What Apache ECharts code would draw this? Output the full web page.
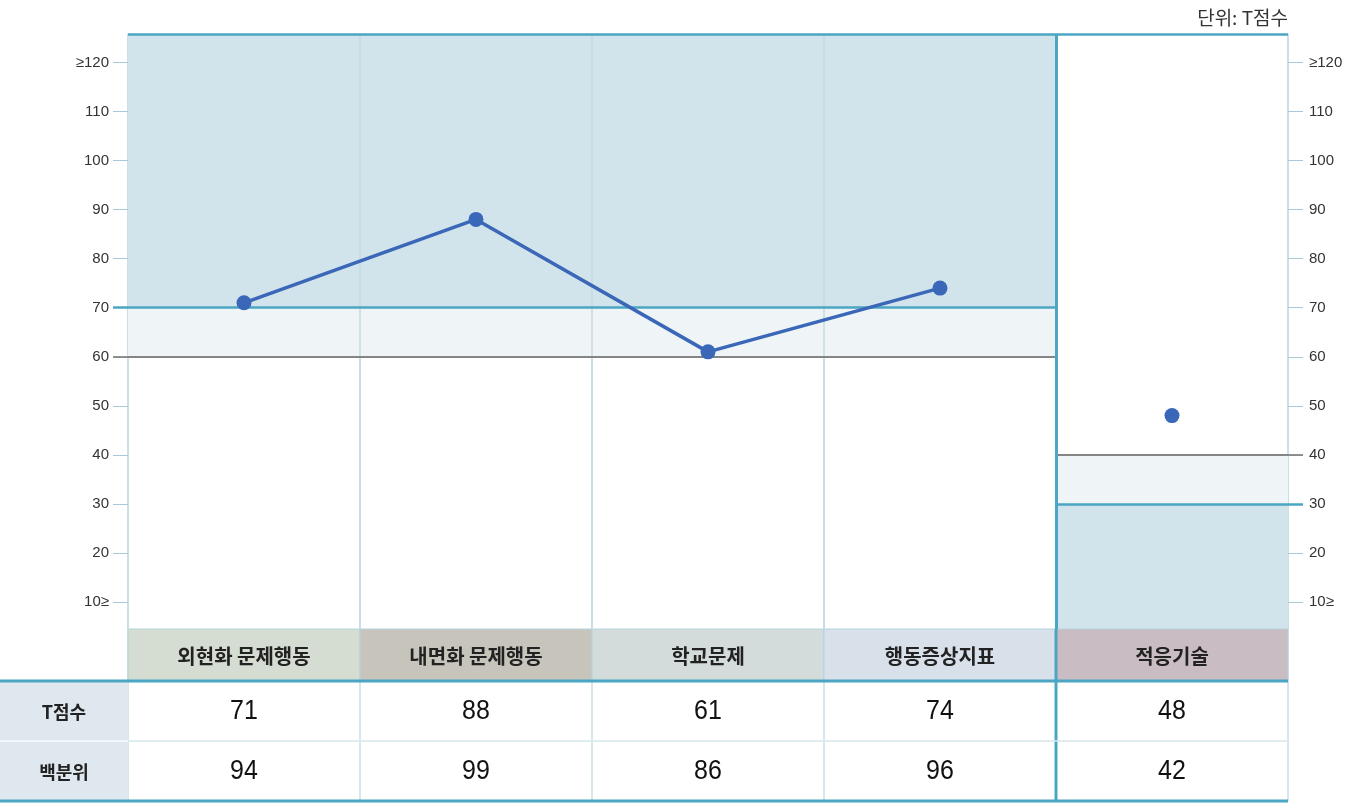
<!DOCTYPE html>
<html>
<head>
<meta charset="utf-8">
<script src="https://cdn.jsdelivr.net/npm/echarts@6/dist/echarts.min.js"></script>
<style>
  html, body { margin: 0; padding: 0; background: #fff; }
  #chart { width: 1367px; height: 803px; }
</style>
</head>
<body>
<div id="chart"></div>
<script>
// scales: the first four are problem scales, the last one is adaptive skills
var categories = ['외현화 문제행동', '내면화 문제행동', '학교문제', '행동증상지표', '적응기술'];
var tScores = [71, 88, 61, 74, 48];
var percentiles = [94, 99, 86, 96, 42];
var rowLabels = ['T점수', '백분위'];
var yTicks = [10, 20, 30, 40, 50, 60, 70, 80, 90, 100, 110, 120];
var yTickLabels = ['10≥', '20', '30', '40', '50', '60', '70', '80', '90', '100', '110', '≥120'];
var problemCount = 4;
var problemCut = { clinical: 70, borderline: 60 };
var adaptiveCut = { clinical: 30, borderline: 40 };

// layout / style
var Y_MIN = 4.5, Y_MAX = 125.8;
var TEAL = '#4aa6c2', GRIDC = '#cadde6', DARK = '#d2e4eb', LIGHT = '#eff5f7', GRAY = '#858585', BLUE = '#3b67b9';
var headerColors = ['#d5dcd2', '#c7c5bb', '#d3dcdb', '#d8e0ea', '#cabcc3'];
var KR = '"Noto Sans CJK KR", sans-serif';
var NUM = '"Liberation Sans", Arial, sans-serif';

var chart = echarts.init(document.getElementById('chart'));

function xAxisFor(gi) {
  return {
    type: 'value', gridIndex: gi, min: 0, max: categories.length, interval: 1,
    axisLine: { show: false }, axisTick: { show: false }, axisLabel: { show: false },
    splitLine: { show: true, lineStyle: { color: GRIDC, width: 1.5 } }
  };
}

function yAxisFor(pos, margin) {
  return {
    type: 'value', gridIndex: 0, position: pos, min: Y_MIN, max: Y_MAX,
    axisLine: { show: true, lineStyle: { color: GRIDC, width: 1.5 } },
    axisTick: { show: true, length: 15, customValues: yTicks, lineStyle: { color: '#a9c9d6', width: 1 } },
    axisLabel: {
      show: true, customValues: yTicks, margin: margin, color: '#333', fontSize: 15, fontFamily: NUM,
      formatter: function (v) { return yTickLabels[yTicks.indexOf(v)]; }
    },
    splitLine: { show: false }
  };
}

// a coloured tick that continues a cut-off line outside the plot
function cutTickAxis(pos, value, color, width) {
  return {
    type: 'value', gridIndex: 0, position: pos, min: Y_MIN, max: Y_MAX,
    axisLine: { show: false }, axisLabel: { show: false }, splitLine: { show: false },
    axisTick: { show: true, length: 15, customValues: [value], lineStyle: { color: color, width: width } }
  };
}

function seg(x1, y1, x2, y2, color, width) {
  return [{ coord: [x1, y1], lineStyle: { color: color, width: width, type: 'solid' } }, { coord: [x2, y2] }];
}

var n = categories.length;
var problemData = [], adaptiveData = [];
tScores.forEach(function (v, i) {
  if (i < problemCount) problemData.push([i + 0.5, v]);
  else adaptiveData.push([i + 0.5, v]);
});

var headerData = categories.map(function (c, i) { return [i + 0.5, 0, i]; });
var bodyData = [];
[tScores, percentiles].forEach(function (arr, r) {
  arr.forEach(function (v, i) { bodyData.push([i + 0.5, r, v]); });
});

var colLines = [];
for (var k = 1; k < n; k++) {
  if (k !== problemCount) colLines.push(seg(k, Y_MIN, k, Y_MAX, '#c6dae3', 1.5));
}

function tealVertical(x, y0, h) {
  return { type: 'line', shape: { x1: x, y1: y0, x2: x, y2: y0 + h }, style: { stroke: TEAL, lineWidth: 3 } };
}

var option = {
  animation: false,
  title: {
    text: '단위: T점수', right: 79, top: 8, padding: 0,
    textStyle: { fontSize: 19, fontWeight: 'normal', color: '#333', fontFamily: KR }
  },
  grid: [
    { left: 128, right: 79, top: 34, bottom: 174 },
    { left: 128, right: 79, top: 629, height: 52 },
    { left: 128, right: 79, top: 681, height: 120 }
  ],
  xAxis: [xAxisFor(0), xAxisFor(1), xAxisFor(2)],
  yAxis: [
    yAxisFor('left', 19),
    yAxisFor('right', 21),
    { type: 'category', gridIndex: 1, data: [''], show: false },
    { type: 'category', gridIndex: 2, data: rowLabels, inverse: true, show: false },
    cutTickAxis('left', problemCut.clinical, TEAL, 2.5),
    cutTickAxis('left', problemCut.borderline, GRAY, 1.8),
    cutTickAxis('right', adaptiveCut.clinical, TEAL, 2.5),
    cutTickAxis('right', adaptiveCut.borderline, GRAY, 1.8)
  ],
  series: [
    {
      type: 'line', xAxisIndex: 0, yAxisIndex: 0, data: problemData, z: 4,
      symbol: 'circle', symbolSize: 15,
      lineStyle: { color: BLUE, width: 3.5 }, itemStyle: { color: BLUE },
      markArea: {
        silent: true,
        data: [
          [{ coord: [0, problemCut.clinical], itemStyle: { color: DARK } }, { coord: [problemCount, Y_MAX] }],
          [{ coord: [0, problemCut.borderline], itemStyle: { color: LIGHT } }, { coord: [problemCount, problemCut.clinical] }],
          [{ coord: [problemCount, adaptiveCut.clinical], itemStyle: { color: LIGHT } }, { coord: [n, adaptiveCut.borderline] }],
          [{ coord: [problemCount, Y_MIN], itemStyle: { color: DARK } }, { coord: [n, adaptiveCut.clinical] }]
        ]
      },
      markLine: {
        silent: true, z: 3, symbol: ['none', 'none'], label: { show: false },
        data: colLines.concat([
          seg(0, problemCut.clinical, problemCount, problemCut.clinical, TEAL, 2.5),
          seg(0, problemCut.borderline, problemCount, problemCut.borderline, GRAY, 1.8),
          seg(problemCount, adaptiveCut.clinical, n, adaptiveCut.clinical, TEAL, 2.5),
          seg(problemCount, adaptiveCut.borderline, n, adaptiveCut.borderline, GRAY, 1.8),
          seg(0, Y_MAX, n, Y_MAX, TEAL, 2.5),
          seg(problemCount, Y_MIN, problemCount, Y_MAX, TEAL, 3)
        ])
      }
    },
    {
      type: 'scatter', xAxisIndex: 0, yAxisIndex: 0, data: adaptiveData, z: 4,
      symbol: 'circle', symbolSize: 15, itemStyle: { color: BLUE, opacity: 1 }
    },
    {
      // header row with scale names
      type: 'custom', xAxisIndex: 1, yAxisIndex: 2, data: headerData, silent: true,
      renderItem: function (params, api) {
        var i = api.value(2);
        var c = api.coord([api.value(0), 0]);
        var s = api.size([1, 1]);
        var x0 = c[0] - s[0] / 2, y0 = c[1] - s[1] / 2;
        var kids = [
          { type: 'rect', shape: { x: x0, y: y0, width: s[0], height: s[1] },
            style: { fill: headerColors[i], stroke: '#b4d3dd', lineWidth: 1 } },
          { type: 'text', style: { text: categories[i], x: c[0], y: c[1] + 1, align: 'center', verticalAlign: 'middle',
            font: 'bold 20px ' + KR, fill: '#222' } }
        ];
        if (i === problemCount) kids.push(tealVertical(x0, y0, s[1]));
        return { type: 'group', children: kids };
      }
    },
    {
      // score / percentile cells
      type: 'custom', xAxisIndex: 2, yAxisIndex: 3, data: bodyData, silent: true,
      renderItem: function (params, api) {
        var c = api.coord([api.value(0), api.value(1)]);
        var s = api.size([1, 1]);
        var kids = [
          { type: 'text', x: c[0], y: c[1], scaleY: 1.1,
            style: { text: String(api.value(2)), x: 0, y: 0, align: 'center', verticalAlign: 'middle',
              font: '25px ' + NUM, fill: '#111' } }
        ];
        if (Math.floor(api.value(0)) === problemCount) kids.push(tealVertical(c[0] - s[0] / 2, c[1] - s[1] / 2, s[1]));
        return { type: 'group', children: kids };
      }
    },
    {
      // row labels and table frame
      type: 'custom', xAxisIndex: 2, yAxisIndex: 3, silent: true, z: 3,
      data: rowLabels.map(function (r, k) { return [0, k]; }),
      renderItem: function (params, api) {
        var k = api.value(1);
        var c = api.coord([0, k]);
        var s = api.size([1, 1]);
        var cs = params.coordSys;
        var right = cs.x + cs.width;
        var y0 = c[1] - s[1] / 2, y1 = c[1] + s[1] / 2;
        var kids = [
          { type: 'rect', shape: { x: 0, y: y0, width: c[0], height: s[1] }, style: { fill: '#dfe8ee' } },
          { type: 'text', style: { text: rowLabels[k], x: c[0] / 2, y: c[1] + 1, align: 'center', verticalAlign: 'middle',
            font: 'bold 18px ' + KR, fill: '#222' } }
        ];
        if (k > 0) {
          kids.push({ type: 'line', shape: { x1: 0, y1: y0, x2: c[0], y2: y0 }, style: { stroke: '#f4f8fa', lineWidth: 2 } });
          kids.push({ type: 'line', shape: { x1: c[0], y1: y0, x2: right, y2: y0 }, style: { stroke: '#d8e7ee', lineWidth: 1.5 } });
        }
        if (k === 0) kids.push({ type: 'line', shape: { x1: 0, y1: y0, x2: right, y2: y0 }, style: { stroke: TEAL, lineWidth: 3 } });
        if (k === rowLabels.length - 1) kids.push({ type: 'line', shape: { x1: 0, y1: y1, x2: right, y2: y1 }, style: { stroke: TEAL, lineWidth: 3 } });
        return { type: 'group', children: kids };
      }
    }
  ]
};

chart.setOption(option);
</script>
</body>
</html>
